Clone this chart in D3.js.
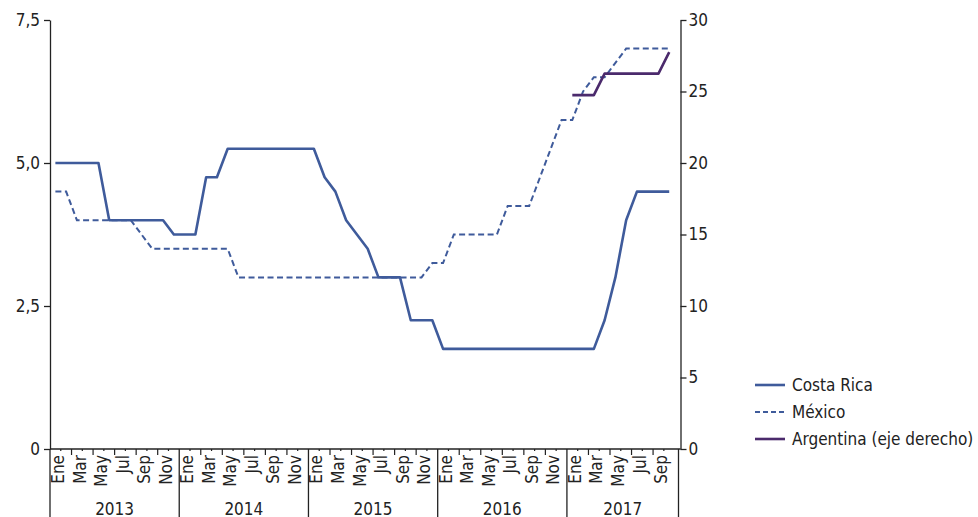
<!DOCTYPE html>
<html>
<head>
<meta charset="utf-8">
<script src="https://cdn.jsdelivr.net/npm/d3@7"></script>
<style>
  html, body { margin: 0; padding: 0; background: #fff; }
  svg { display: block; }
  text { font-family: "DejaVu Sans Condensed", "DejaVu Sans", sans-serif; font-stretch: condensed; fill: #222; font-size: 17px; }
</style>
</head>
<body>
<svg id="chart" width="978" height="517"></svg>
<script>
// Monthly data, Jan 2013 .. Oct 2017 (58 months)
const years = ["2013", "2014", "2015", "2016", "2017"];
const monthNames = ["Ene","Feb","Mar","Abr","May","Jun","Jul","Ago","Sep","Oct","Nov","Dic"];
const costaRica = [
  5.0, 5.0, 5.0, 5.0, 5.0, 4.0, 4.0, 4.0, 4.0, 4.0, 4.0, 3.75,
  3.75, 3.75, 4.75, 4.75, 5.25, 5.25, 5.25, 5.25, 5.25, 5.25, 5.25, 5.25,
  5.25, 4.75, 4.5, 4.0, 3.75, 3.5, 3.0, 3.0, 3.0, 2.25, 2.25, 2.25,
  1.75, 1.75, 1.75, 1.75, 1.75, 1.75, 1.75, 1.75, 1.75, 1.75, 1.75, 1.75,
  1.75, 1.75, 1.75, 2.25, 3.0, 4.0, 4.5, 4.5, 4.5, 4.5
];
const mexico = [
  4.5, 4.5, 4.0, 4.0, 4.0, 4.0, 4.0, 4.0, 3.75, 3.5, 3.5, 3.5,
  3.5, 3.5, 3.5, 3.5, 3.5, 3.0, 3.0, 3.0, 3.0, 3.0, 3.0, 3.0,
  3.0, 3.0, 3.0, 3.0, 3.0, 3.0, 3.0, 3.0, 3.0, 3.0, 3.0, 3.25,
  3.25, 3.75, 3.75, 3.75, 3.75, 3.75, 4.25, 4.25, 4.25, 4.75, 5.25, 5.75,
  5.75, 6.25, 6.5, 6.5, 6.75, 7.0, 7.0, 7.0, 7.0, 7.0
];
const argentina = [
  null, null, null, null, null, null, null, null, null, null, null, null,
  null, null, null, null, null, null, null, null, null, null, null, null,
  null, null, null, null, null, null, null, null, null, null, null, null,
  null, null, null, null, null, null, null, null, null, null, null, null,
  24.75, 24.75, 24.75, 26.25, 26.25, 26.25, 26.25, 26.25, 26.25, 27.75
];
const leftTicks = [0, 2.5, 5.0, 7.5];
const rightTicks = [0, 5, 10, 15, 20, 25, 30];
const seriesNames = ["Costa Rica", "México", "Argentina (eje derecho)"];

const blue = "#3f5b9b", purple = "#4b2a6c", ink = "#222";
const svg = d3.select("#chart");
const mLeft = 50, mRight = 680.5, mTop = 20, mBottom = 449;

const x = d3.scaleLinear().domain([0, 58.5]).range([mLeft, 680]);
const yL = d3.scaleLinear().domain([0, 7.5]).range([mBottom, mTop]);
const yR = d3.scaleLinear().domain([0, 30]).range([mBottom, mTop]);

// Left axis
const axL = svg.append("g").attr("transform", `translate(${mLeft},0)`)
  .call(d3.axisLeft(yL).tickValues(leftTicks).tickSize(6).tickSizeOuter(0)
    .tickFormat(d => d === 0 ? "0" : d3.format(".1f")(d).replace(".", ",")));
// Right axis
const axR = svg.append("g").attr("transform", `translate(${mRight},0)`)
  .call(d3.axisRight(yR).tickValues(rightTicks).tickSize(6).tickSizeOuter(0));
[axL, axR].forEach(a => {
  a.select(".domain").attr("stroke", ink).attr("stroke-width", 1.3);
  a.selectAll(".tick line").attr("stroke", ink).attr("stroke-width", 1.3);
  a.selectAll(".tick text").attr("fill", ink).style("font-size", "17px")
    .style("font-family", '"DejaVu Sans Condensed", "DejaVu Sans", sans-serif');
});
axL.selectAll(".tick text").attr("x", -10);
axR.selectAll(".tick text").attr("x", 8);

// X axis line
const n = costaRica.length;
svg.append("line").attr("x1", mLeft).attr("x2", mRight).attr("y1", mBottom).attr("y2", mBottom)
  .attr("stroke", ink).attr("stroke-width", 1.3);

// major ticks every two months, minor ticks in between
const gx = svg.append("g");
for (let m = 1; m < n; m++) {
  if (m % 12 === 0) continue;
  gx.append("line").attr("x1", x(m)).attr("x2", x(m))
    .attr("y1", mBottom).attr("y2", mBottom + (m % 2 === 0 ? 6 : 2))
    .attr("stroke", ink).attr("stroke-width", 1.2);
}
// year separators
const sepPos = [0, 12, 24, 36, 48];
sepPos.forEach(m => {
  gx.append("line").attr("x1", x(m)).attr("x2", x(m)).attr("y1", mBottom).attr("y2", 517)
    .attr("stroke", ink).attr("stroke-width", 1.3);
});
gx.append("line").attr("x1", 678.5).attr("x2", 678.5).attr("y1", mBottom).attr("y2", 517)
  .attr("stroke", ink).attr("stroke-width", 1.3);

// month labels (every other month)
for (let m = 0; m < n; m += 2) {
  const cx = x(m + 0.5) + 2.5;
  gx.append("text")
    .attr("transform", `translate(${cx},455) rotate(-90)`)
    .attr("text-anchor", "end").attr("dy", "0.36em")
    .text(monthNames[m % 12]);
}
// year labels
years.forEach((yr, i) => {
  const a = x(i * 12), b = i === years.length - 1 ? 678.5 : x((i + 1) * 12);
  gx.append("text").attr("x", (a + b) / 2).attr("y", 514.5)
    .attr("text-anchor", "middle").text(yr);
});

// lines
const idx = d3.range(n);
svg.append("path").datum(idx)
  .attr("d", d3.line().x(i => x(i + 0.5)).y(i => yL(mexico[i])))
  .attr("fill", "none").attr("stroke", blue).attr("stroke-width", 2)
  .attr("stroke-dasharray", "6,3.5");
svg.append("path").datum(idx)
  .attr("d", d3.line().x(i => x(i + 0.5)).y(i => yL(costaRica[i])))
  .attr("fill", "none").attr("stroke", blue).attr("stroke-width", 2.6)
  .attr("stroke-linejoin", "round");
svg.append("path").datum(idx)
  .attr("d", d3.line().defined(i => argentina[i] !== null).x(i => x(i + 0.5)).y(i => yR(argentina[i])))
  .attr("fill", "none").attr("stroke", purple).attr("stroke-width", 2.6)
  .attr("stroke-linejoin", "round");

// legend
const lg = svg.append("g");
const styles = [
  {c: blue, w: 2.6, dash: null},
  {c: blue, w: 2, dash: "5,3"},
  {c: purple, w: 2.6, dash: null}
];
seriesNames.forEach((s, i) => {
  const yy = 385 + i * 27;
  lg.append("line").attr("x1", 755).attr("x2", 785).attr("y1", yy).attr("y2", yy)
    .attr("stroke", styles[i].c).attr("stroke-width", styles[i].w)
    .attr("stroke-dasharray", styles[i].dash);
  lg.append("text").attr("x", 792).attr("y", yy).attr("dy", "0.36em").text(s);
});
</script>
</body>
</html>
